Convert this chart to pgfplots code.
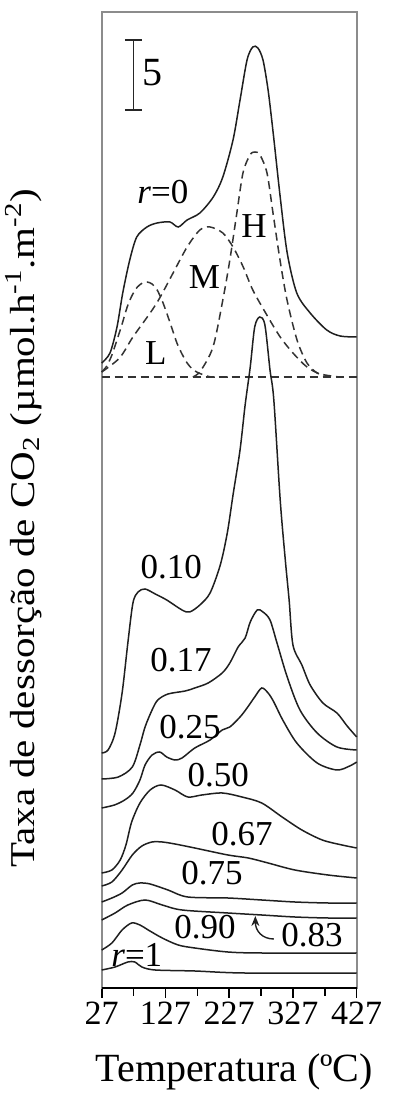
\documentclass[border=0pt]{standalone}
\usepackage{fontspec}
\setmainfont{Liberation Serif}
\usepackage{pgfplots}
\pgfplotsset{compat=1.18}
\usetikzlibrary{arrows.meta}
\newcommand\fs{\fontsize{17.5}{19}\selectfont}
\begin{document}
\begin{tikzpicture}
\begin{axis}[
  scale only axis, width=127.5pt, height=488pt,
  xmin=27, xmax=427, ymin=0, ymax=976,
  clip=false,
  axis line style={draw=black!45, line width=0.9pt},
  xtick={27,127,227,327,427},
  minor xtick={77,177,277,377},
  ytick=\empty,
  xtick pos=left, tick align=outside,
  major tick length=5pt, minor tick length=4pt,
  every tick/.style={black, line width=0.8pt},
  xticklabel style={font=\fontsize{17}{18}\selectfont, inner sep=2pt},
  /pgf/number format/assume math mode=true,
  /pgf/number format/1000 sep={},
  xlabel={Temperatura (ºC)},
  xlabel style={at={(rel axis cs:0.52,0)}, anchor=base, yshift=-46.8pt, font=\fontsize{20}{22}\selectfont},
  curve/.style={black!88, line width=0.75pt, smooth, tension=0.5, mark=none},
  dcurve/.style={curve, black!80, dash pattern=on 4pt off 2.5pt},
]
\coordinate (bl) at (rel axis cs:0,0);
\coordinate (tr) at (rel axis cs:1,1);
\draw[black, line width=0.8pt] (rel axis cs:0,0) -- (rel axis cs:1,0);

% r = 0
\addplot[curve] coordinates {(27,625) (40,635) (51,661) (60,695) (71,728) (82,751) (98,761) (114,765) (134,766) (147,761) (161,768) (181,775) (202,791) (217,811) (233,848) (244,888) (255,928) (264,941) (272,940) (280,928) (288,898) (296,855) (307,791) (318,735) (333,695) (354,675) (380,658) (401,652) (427,651)};
% deconvolution (dashed)
\addplot[dcurve, smooth=false] coordinates {(27,611) (427,611)};
\addplot[dcurve] coordinates {(27,616) (35,622) (43,633) (51,648) (59,664) (67,681) (75,693) (83,701) (91,705) (98,706) (106,704) (114,698) (122,687) (129,675) (137,660) (145,645) (153,634) (161,625) (169,619) (176,616) (187,613) (200,611) (230,611)};
\addplot[dcurve] coordinates {(27,616) (55,630) (76,651) (103,675) (118,690) (139,715) (161,741) (181,758) (197,761) (217,755) (233,741) (249,721) (264,698) (286,673) (307,651) (327,635) (349,621) (370,614) (400,611)};
\addplot[dcurve] coordinates {(170,611) (182,617) (201.6,641) (217,688) (228,728) (239,775) (248.6,815) (259.6,833) (267.5,836) (275.3,833) (286.3,815) (295.7,775) (306.7,728) (317.7,688) (333.4,648) (349,625) (364.8,615) (380,611)};
% r = 0.10
\addplot[curve] coordinates {(27,235) (37,238) (48,255) (59,295) (68,345) (76,385) (84,396) (95,399) (111,394) (129,388) (153,378) (165,376) (181,383) (197,395) (213,423) (224,455) (233,493) (244,538) (252,583) (260,621) (267,661) (275,671) (283,663) (291,618) (297,588) (307,488) (315,428) (321,388) (327,343) (341,323) (354,303) (374,285) (396,275) (412,262) (427,251)};
% r = 0.17
\addplot[curve] coordinates {(27,209) (53,211) (75,221) (87,243) (95,261) (106,278) (115,288) (131,294) (158,297) (173,300) (194,305) (216,315) (228,325) (241,341) (252,350) (260,366) (271,378) (280,376) (291,368) (302,345) (318,311) (338,278) (365,255) (396,241) (427,238)};
% r = 0.25
\addplot[curve] coordinates {(27,180) (47,183) (63,188) (76,195) (87,208) (95,223) (106,233) (118,236) (129,231) (142,228) (153,230) (173,240) (197,248) (216,258) (228,261) (244,271) (255,280) (267,291) (278,300) (288,295) (297,286) (311,268) (333,245) (365,225) (396,218) (416,222) (427,226)};
% r = 0.50
\addplot[curve] coordinates {(27,115) (43,118) (56,128) (65,143) (74,166) (87,185) (103,198) (120,203) (142,198) (162,191) (184,193) (216,195) (247,191) (278,185) (310,171) (341,158) (373,148) (404,143) (427,140)};
% r = 0.67
\addplot[curve] coordinates {(27,102) (43,106) (59,118) (75,133) (90,142) (106,146) (122,146) (142,144) (173,140) (225,133) (257,130) (288,125) (330,118) (382,113) (427,110)};
% r = 0.75
\addplot[curve] coordinates {(27,86) (43,90) (59,95) (75,103) (87,105) (103,104) (131,98) (162,91) (225,90) (278,88) (330,86) (382,85) (427,85)};
% r = 0.83
\addplot[curve] coordinates {(27,68) (48,75) (68,83) (95,88) (122,83) (153,78) (225,75) (278,73) (330,71) (382,70) (427,70)};
% r = 0.90
\addplot[curve] coordinates {(27,38) (43,45) (59,58) (74,65) (87,63) (100,58) (122,50) (147,43) (173,40) (225,36) (278,35) (427,35)};
% r = 1
\addplot[curve] coordinates {(27,18) (48,21) (68,26) (79,26) (90,21) (111,18) (173,17) (251,15) (427,15)};

% scale bar
\draw[black!85, line width=0.8pt] (axis cs:76.6,878) -- (axis cs:76.6,948);
\draw[black!85, line width=0.8pt] ([xshift=-4.2pt]axis cs:76.6,878) -- ([xshift=4.2pt]axis cs:76.6,878);
\draw[black!85, line width=0.8pt] ([xshift=-4.2pt]axis cs:76.6,948) -- ([xshift=4.2pt]axis cs:76.6,948);
\node[font=\fontsize{20}{22}\selectfont] at (axis cs:106.7,915.5) {5};

% labels
\node[font=\fs] at (axis cs:123,796) {\textit{r}=0};
\node[font=\fs] at (axis cs:266,762) {H};
\node[font=\fs] at (axis cs:188,711) {M};
\node[font=\fs] at (axis cs:112,635) {L};
\node[font=\fs] at (axis cs:136,421) {0.10};
\node[font=\fs] at (axis cs:151.5,328) {0.17};
\node[font=\fs] at (axis cs:165.5,261) {0.25};
\node[font=\fs] at (axis cs:210,213) {0.50};
\node[font=\fs] at (axis cs:247,154) {0.67};
\node[font=\fs] at (axis cs:200,115) {0.75};
\node[font=\fs] at (axis cs:189,61) {0.90};
\node[font=\fs] at (axis cs:357,53) {0.83};
\node[font=\fs] at (axis cs:82,33) {\textit{r}=1};
\draw[-{Stealth[length=5pt,width=4pt]}, line width=0.7pt, black!88] (axis cs:297,49) .. controls (axis cs:279,49) and (axis cs:268,57) .. (axis cs:268,72);

% y label
\node[rotate=90, anchor=base, font=\fontsize{20.5}{22}\selectfont] at ([xshift=-33.5pt]rel axis cs:0,0.471) {\scalebox{1}[0.85]{Taxa de dessorção de CO\textsubscript{2} (µmol.h\textsuperscript{-1}.m\textsuperscript{-2})}};
\end{axis}
\pgfresetboundingbox
\path[use as bounding box] ([xshift=-50.85pt,yshift=-53.5pt]bl) rectangle ([xshift=18.15pt,yshift=6pt]tr);
\end{tikzpicture}
\end{document}
